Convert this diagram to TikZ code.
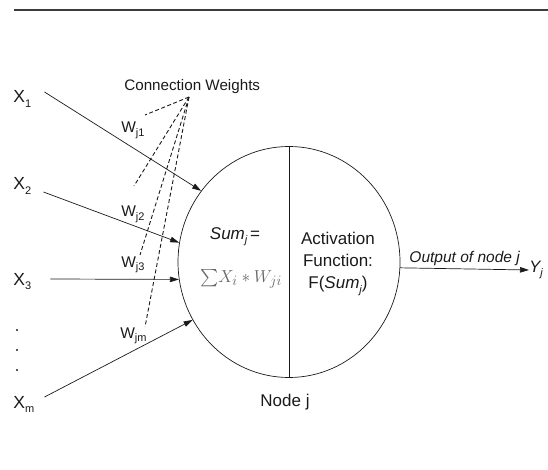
\documentclass[tikz,border=0pt]{standalone}
\usepackage{fontspec}
\setmainfont{Liberation Sans}
\usepackage{amsmath}
\usetikzlibrary{arrows.meta, shapes.geometric}
\definecolor{ink}{HTML}{1A1A1A}
\newcommand{\lowsub}[1]{\raisebox{-0.45ex}{\fontsize{11}{11}\selectfont #1}}

\begin{document}
\begin{tikzpicture}[x=1pt, y=-1pt, >={Triangle[length=9pt, width=5.5pt]},
      line width=0.7pt, ink,
      inp/.style={anchor=base west, inner sep=0pt, font=\fontsize{17.5}{19}\selectfont},
      wlab/.style={anchor=base west, inner sep=0pt, font=\fontsize{15.5}{17}\selectfont},
      txt/.style={align=center, font=\fontsize{17}{22}\selectfont},
      dot/.style={circle, fill=ink, inner sep=0pt, minimum size=2.4pt},
      wire/.style={->},
      weight/.style={dash pattern=on 4pt off 2.5pt, line width=0.9pt}]
    \useasboundingbox (0,0) rectangle (548,470);
    \draw[line width=1.5pt, ink!85] (14,10) -- (548,10);
    % the node
    \node[draw, ellipse, minimum width=222pt, minimum height=231pt, inner sep=0pt] (neuron) at (289,262) {};
    \draw (neuron.north) -- (neuron.south);
    \node[txt] (sum) at (235,237) {\textit{Sum\lowsub{j}}\,=};
    \node[text=black!60, font=\fontsize{19}{20}\selectfont] (sigma) at (241,279) {$\sum\! X_i * W_{ji}$};
    \node[txt] (act) at (338,264) {Activation\\Function:\\F(\textit{Sum\lowsub{j}})};
    \node[txt] (nodej) at (285,402) {Node j};
    \node[anchor=west, inner sep=0pt, font=\fontsize{16.5}{18}\selectfont] (yj) at (529,270) {\textit{Y\lowsub{j}}};
    \draw[wire] (neuron.-3) -- (yj.west)
      node[midway, above, inner sep=3pt, font=\fontsize{15.5}{16}\selectfont\itshape] {Output of node j};
    % inputs
    \node[inp] (x1) at (13,103) {X\lowsub{1}};
    \node[inp] (x2) at (13,190) {X\lowsub{2}};
    \node[inp] (x3) at (13,285) {X\lowsub{3}};
    \node[inp] (xm) at (13,408) {X\lowsub{m}};
    \foreach \i/\y in {1/330, 2/350, 3/370}
      \node[dot] (dot\i) at (17,\y) {};
    \draw[wire] ([shift={(13,-11)}]x1.base east) -- (neuron.141);
    \draw[wire] ([shift={(12,2)}]x2.base east) -- (neuron.170);
    \draw[wire] ([shift={(19,-6)}]x3.base east) -- (neuron.189);
    \draw[wire] ([shift={(10,-11)}]xm.base east) -- (neuron.211);
    % weights
    \node[wlab] (wj1) at (121,133) {W\lowsub{j1}};
    \node[wlab] (wj2) at (121,217) {W\lowsub{j2}};
    \node[wlab] (wj3) at (121,267) {W\lowsub{j3}};
    \node[wlab] (wjm) at (120,338) {W\lowsub{jm}};
    \node[anchor=base west, inner sep=0pt, font=\fontsize{15.2}{16}\selectfont] (cw) at (124,91) {Connection Weights};
    \coordinate (apex) at (189,97);
    \coordinate (e1) at (145,115);
    \coordinate (e2) at (134,186);
    \coordinate (e3) at (140,255);
    \coordinate (em) at (145,327);
    \foreach \e in {e1, e2, e3, em}
      \draw[weight] (apex) -- (\e);
  \end{tikzpicture}
\end{document}
